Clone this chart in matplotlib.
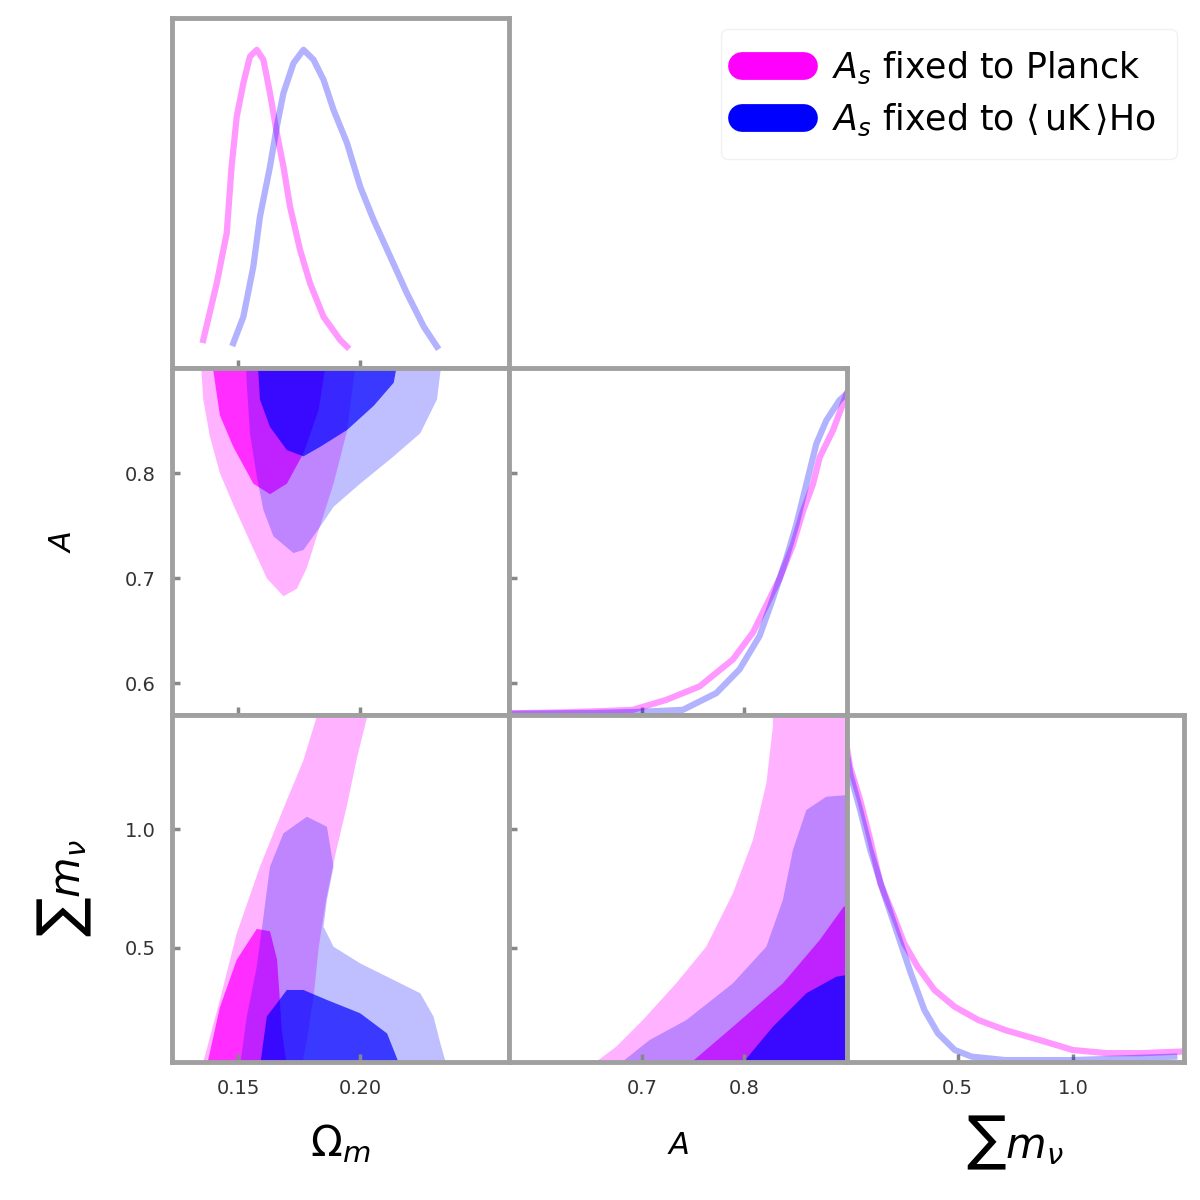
import numpy as np
import matplotlib

matplotlib.use("Agg")
import matplotlib.pyplot as plt

# parameter ranges and ticks
om_lim = (0.123, 0.261)
a_lim = (0.57, 0.90)
mnu_lim = (0.02, 1.48)
om_ticks = [0.15, 0.20]
a_xticks = [0.7, 0.8]
a_yticks = [0.6, 0.7, 0.8]
mnu_ticks = [0.5, 1.0]

labels = ["$A_s$ fixed to Planck", r"$A_s$ fixed to $\langle\,$uK$\,\rangle$Ho"]

# 1D marginals
om_pl_x = [0.1358, 0.1413, 0.1454, 0.1474, 0.1495, 0.1522, 0.1549, 0.1577, 0.1604,
           0.1631, 0.1659, 0.1686, 0.1713, 0.1754, 0.1795, 0.1850, 0.1918, 0.1946]
om_pl_y = [0.088, 0.266, 0.424, 0.633, 0.790, 0.895, 0.979, 1.0, 0.969,
           0.864, 0.738, 0.633, 0.507, 0.371, 0.266, 0.161, 0.088, 0.067]
om_uk_x = [0.1481, 0.1522, 0.1563, 0.1590, 0.1631, 0.1659, 0.1686, 0.1727, 0.1768, 0.1809,
           0.1850, 0.1891, 0.1946, 0.2000, 0.2055, 0.2123, 0.2191, 0.2260, 0.2314]
om_uk_y = [0.078, 0.161, 0.319, 0.476, 0.633, 0.759, 0.864, 0.958, 1.0, 0.969,
           0.906, 0.811, 0.707, 0.570, 0.465, 0.350, 0.235, 0.130, 0.067]

a_pl_x = [0.57, 0.62, 0.66, 0.6908, 0.7234, 0.7561, 0.7887, 0.8083, 0.8214, 0.8344,
          0.8474, 0.8572, 0.8670, 0.8736, 0.8866, 0.8964, 0.90]
a_pl_y = [0.005, 0.008, 0.012, 0.016, 0.047, 0.089, 0.173, 0.257, 0.341, 0.425,
          0.529, 0.634, 0.718, 0.802, 0.886, 0.969, 1.0]
a_uk_x = [0.57, 0.65, 0.70, 0.7397, 0.7724, 0.7952, 0.8148, 0.8278, 0.8409, 0.8507,
          0.8605, 0.8703, 0.8801, 0.8931, 0.90]
a_uk_y = [0.004, 0.006, 0.010, 0.016, 0.068, 0.142, 0.246, 0.362, 0.487, 0.592,
          0.718, 0.844, 0.917, 0.980, 1.0]

mnu_pl_x = [0.02, 0.0346, 0.0783, 0.1222, 0.1660, 0.2247, 0.2686, 0.3269, 0.4001,
            0.4878, 0.5900, 0.7070, 0.8530, 0.9990, 1.1454, 1.2915, 1.4669]
mnu_pl_y = [1.0, 0.936, 0.830, 0.704, 0.566, 0.461, 0.376, 0.302, 0.228,
            0.175, 0.133, 0.101, 0.070, 0.038, 0.028, 0.028, 0.033]
mnu_uk_x = [0.02, 0.0346, 0.0783, 0.1222, 0.1806, 0.2393, 0.2977, 0.3562, 0.4147,
            0.4878, 0.5607, 0.7070, 0.9990, 1.4378]
mnu_uk_y = [0.978, 0.915, 0.799, 0.672, 0.535, 0.408, 0.281, 0.165, 0.091,
            0.038, 0.017, 0.006, 0.006, 0.017]

# 2D contours (68% / 95%)
# Omega_m vs A
oa_pl95_x = [0.1344, 0.1358, 0.1385, 0.1426, 0.1481, 0.1549, 0.1618, 0.1686, 0.1741,
             0.1782, 0.1809, 0.1836, 0.1891, 0.1946, 0.1990]
oa_pl95_y = [0.92, 0.87, 0.835, 0.80, 0.77, 0.735, 0.70, 0.683, 0.69,
             0.71, 0.73, 0.75, 0.79, 0.84, 0.92]
oa_pl68_x = [0.1385, 0.1426, 0.1481, 0.1563, 0.1631, 0.1700, 0.1770, 0.1830, 0.1870]
oa_pl68_y = [0.92, 0.855, 0.825, 0.79, 0.78, 0.79, 0.82, 0.86, 0.92]
oa_uk95_x = [0.1530, 0.1536, 0.1549, 0.1577, 0.1604, 0.1645, 0.1727, 0.1768, 0.1836,
             0.1891, 0.2000, 0.2137, 0.2246, 0.2314, 0.2341]
oa_uk95_y = [0.92, 0.885, 0.838, 0.797, 0.765, 0.74, 0.724, 0.727, 0.749,
             0.768, 0.790, 0.816, 0.838, 0.870, 0.92]
oa_uk68_x = [0.1577, 0.1590, 0.1631, 0.1700, 0.1768, 0.1836, 0.1946, 0.2055, 0.2137, 0.2164]
oa_uk68_y = [0.92, 0.870, 0.844, 0.822, 0.816, 0.825, 0.841, 0.864, 0.886, 0.92]

# Omega_m vs sum m_nu
om_pl95_x = [0.1340, 0.1358, 0.1426, 0.1495, 0.1590, 0.1700, 0.1768, 0.1830, 0.2035,
             0.1987, 0.1946, 0.1900, 0.1860, 0.1830, 0.1810, 0.1780, 0.1760]
om_pl95_y = [0.0, 0.02, 0.281, 0.561, 0.842, 1.122, 1.29, 1.50, 1.50,
             1.30, 1.10, 0.90, 0.70, 0.50, 0.30, 0.10, 0.0]
om_pl68_x = [0.1372, 0.1426, 0.1495, 0.1577, 0.1631, 0.1660, 0.1670, 0.1680, 0.1700]
om_pl68_y = [0.0, 0.25, 0.45, 0.58, 0.57, 0.45, 0.30, 0.15, 0.0]
om_uk95_x = [0.1508, 0.1536, 0.1577, 0.1604, 0.1631, 0.1686, 0.1782, 0.1864, 0.1891,
             0.1864, 0.1850, 0.1891, 0.2000, 0.2137, 0.2246, 0.2300, 0.2328, 0.2355]
om_uk95_y = [0.0, 0.211, 0.421, 0.630, 0.842, 0.982, 1.052, 1.01, 0.842,
             0.702, 0.589, 0.505, 0.435, 0.365, 0.309, 0.211, 0.098, 0.0]
om_uk68_x = [0.1590, 0.1618, 0.1700, 0.1768, 0.1864, 0.2000, 0.2110, 0.2164]
om_uk68_y = [0.0, 0.211, 0.323, 0.323, 0.281, 0.225, 0.140, 0.0]

# A vs sum m_nu
am_pl95_x = [0.6483, 0.6745, 0.7005, 0.7332, 0.7626, 0.7887, 0.8083, 0.8214, 0.8278,
             0.8278, 0.92, 0.92]
am_pl95_y = [0.0, 0.084, 0.196, 0.351, 0.505, 0.73, 0.954, 1.192, 1.43,
             1.50, 1.50, 0.0]
am_pl68_x = [0.7430, 0.7887, 0.8376, 0.8736, 0.8970, 0.92, 0.92]
am_pl68_y = [0.0, 0.168, 0.351, 0.533, 0.673, 0.70, 0.0]
am_uk95_x = [0.6745, 0.7071, 0.7430, 0.7887, 0.8214, 0.8376, 0.8474, 0.8605, 0.8800,
             0.92, 0.92]
am_uk95_y = [0.0, 0.112, 0.196, 0.351, 0.505, 0.702, 0.912, 1.08, 1.136,
             1.15, 0.0]
am_uk68_x = [0.7952, 0.8278, 0.8605, 0.8900, 0.92, 0.92]
am_uk68_y = [0.0, 0.168, 0.309, 0.379, 0.40, 0.0]

c_pl = "#ff00ff"
c_uk = "#0000ff"
spine_c = "#a0a0a0"


def style(ax):
    for s in ax.spines.values():
        s.set_color(spine_c)
        s.set_linewidth(3.5)
    ax.tick_params(direction="in", length=6, width=2.5, color="#888888", pad=12,
                   labelsize=14, labelcolor="#333333", top=False, right=False)


def fill2d(ax, pl95, pl68, uk95, uk68):
    ax.fill(*pl95, color=c_pl, alpha=0.3, lw=0)
    ax.fill(*pl68, color=c_pl, alpha=0.75, lw=0)
    ax.fill(*uk95, color=c_uk, alpha=0.25, lw=0)
    ax.fill(*uk68, color=c_uk, alpha=0.7, lw=0)


fig = plt.figure(figsize=(12, 12), dpi=100)
gs = fig.add_gridspec(3, 3, left=0.1433, right=0.9867, bottom=0.115, top=0.985,
                      wspace=0, hspace=0, height_ratios=[350, 347, 347])
axes = [[fig.add_subplot(gs[i, j]) if j <= i else None for j in range(3)] for i in range(3)]

# diagonal
ax = axes[0][0]
ax.plot(om_pl_x, om_pl_y, color=c_pl, lw=4.5, alpha=0.4, solid_joinstyle="round")
ax.plot(om_uk_x, om_uk_y, color=c_uk, lw=4.5, alpha=0.3, solid_joinstyle="round")
ax.set_xlim(om_lim)
ax.set_ylim(0, 1.1)

ax = axes[1][1]
ax.plot(a_pl_x, a_pl_y, color=c_pl, lw=4.5, alpha=0.4, solid_joinstyle="round")
ax.plot(a_uk_x, a_uk_y, color=c_uk, lw=4.5, alpha=0.3, solid_joinstyle="round")
ax.set_xlim(a_lim)
a_diag_top = 1.08
ax.set_ylim(0, a_diag_top)

ax = axes[2][2]
ax.plot(mnu_pl_x, mnu_pl_y, color=c_pl, lw=4.5, alpha=0.4, solid_joinstyle="round")
ax.plot(mnu_uk_x, mnu_uk_y, color=c_uk, lw=4.5, alpha=0.3, solid_joinstyle="round")
ax.set_xlim(mnu_lim)
ax.set_ylim(0, 1.1)

# 2D panels
ax = axes[1][0]
fill2d(ax, (oa_pl95_x, oa_pl95_y), (oa_pl68_x, oa_pl68_y),
       (oa_uk95_x, oa_uk95_y), (oa_uk68_x, oa_uk68_y))
ax.set_xlim(om_lim)
ax.set_ylim(a_lim)

ax = axes[2][0]
fill2d(ax, (om_pl95_x, om_pl95_y), (om_pl68_x, om_pl68_y),
       (om_uk95_x, om_uk95_y), (om_uk68_x, om_uk68_y))
ax.set_xlim(om_lim)
ax.set_ylim(mnu_lim)

ax = axes[2][1]
fill2d(ax, (am_pl95_x, am_pl95_y), (am_pl68_x, am_pl68_y),
       (am_uk95_x, am_uk95_y), (am_uk68_x, am_uk68_y))
ax.set_xlim(a_lim)
ax.set_ylim(mnu_lim)

# ticks and labels
for i in range(3):
    for j in range(i + 1):
        ax = axes[i][j]
        style(ax)
        ax.set_xticks([om_ticks, a_xticks, mnu_ticks][j])
        if i == j:
            ax.set_yticks([])
        elif j == 0:
            ax.set_yticks([None, a_yticks, mnu_ticks][i])
        else:
            ax.set_yticks(mnu_ticks)
            ax.set_yticklabels([])
        if i < 2:
            ax.set_xticklabels([])

# the A diagonal panel carries tick marks at the A positions of its row
mid_ticks = [(a - a_lim[0]) / (a_lim[1] - a_lim[0]) * a_diag_top for a in a_yticks]
axes[1][1].set_yticks(mid_ticks)
axes[1][1].set_yticklabels([])

axes[2][0].set_xlabel(r"$\Omega_m$", fontsize=30, labelpad=18)
axes[2][1].set_xlabel(r"$A$", fontsize=22, labelpad=24)
axes[2][2].set_xlabel(r"$\sum m_\nu$", fontsize=30, labelpad=12)
axes[1][0].set_ylabel(r"$A$", fontsize=22, labelpad=34)
axes[2][0].set_ylabel(r"$\sum m_\nu$", fontsize=30, labelpad=22)

handles = [plt.Line2D([], [], color=c_pl, lw=20, solid_capstyle="round"),
           plt.Line2D([], [], color=c_uk, lw=20, solid_capstyle="round")]
fig.legend(handles, labels, loc="upper right", bbox_to_anchor=(0.995, 0.99),
           fontsize=25, frameon=True, edgecolor="#eeeeee", handlelength=1.8,
           handletextpad=0.8, labelspacing=0.45, borderpad=0.6)

plt.savefig("out.png", dpi=100)
